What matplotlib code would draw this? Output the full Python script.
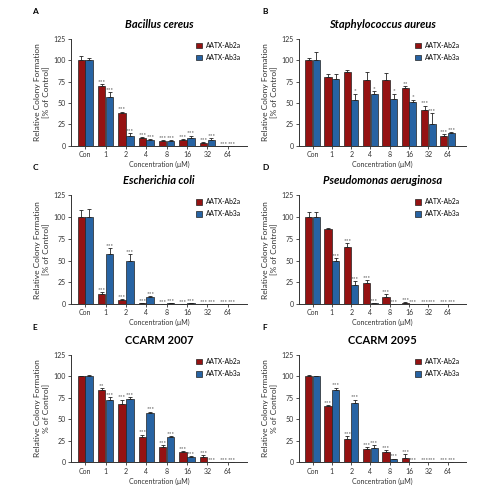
import numpy as np
import matplotlib
matplotlib.use('Agg')
import matplotlib.pyplot as plt

plt.rcParams['font.family'] = ['Lato', 'DejaVu Sans']

conc = ['Con', '1', '2', '4', '8', '16', '32', '64']
series_names = ['AATX-Ab2a', 'AATX-Ab3a']

# values (% of control) and upper error bars
bc_ab2a = [100, 70, 38, 9, 6, 7, 3, 0]
bc_ab2a_err = [5, 2, 2, 1, 1, 1, 1, 0]
bc_ab3a = [100, 57, 12, 7, 6, 9, 7, 0]
bc_ab3a_err = [3, 6, 3, 1, 1, 3, 2, 0]
bc_sig2 = ['', '***', '***', '***', '***', '***', '***', '***']
bc_sig3 = ['', '***', '***', '***', '***', '***', '***', '***']

sa_ab2a = [100, 80, 86, 77, 77, 67, 42, 12]
sa_ab2a_err = [3, 4, 2, 9, 8, 3, 5, 2]
sa_ab3a = [100, 78, 53, 60, 55, 51, 25, 15]
sa_ab3a_err = [10, 6, 8, 4, 6, 3, 13, 1]
sa_sig2 = ['', '', '', '', '', '**', '***', '***']
sa_sig3 = ['', '', '*', '*', '*', '*', '***', '***']

ec_ab2a = [100, 12, 4, 0.5, 0, 0, 0, 0]
ec_ab2a_err = [8, 2, 2, 0, 0, 0, 0, 0]
ec_ab3a = [100, 58, 50, 8, 1, 0.5, 0, 0]
ec_ab3a_err = [9, 6, 7, 1, 0, 0, 0, 0]
ec_sig2 = ['', '***', '***', '***', '***', '***', '***', '***']
ec_sig3 = ['', '***', '***', '***', '***', '***', '***', '***']

pa_ab2a = [100, 86, 66, 24, 8, 1, 0, 0]
pa_ab2a_err = [6, 2, 4, 3, 3, 1, 0, 0]
pa_ab3a = [100, 49, 22, 1, 0, 0, 0, 0]
pa_ab3a_err = [6, 4, 4, 0, 0, 0, 0, 0]
pa_sig2 = ['', '', '***', '***', '***', '***', '***', '***']
pa_sig3 = ['', '***', '***', '***', '***', '***', '***', '***']

c7_ab2a = [100, 84, 68, 29, 18, 12, 6, 0]
c7_ab2a_err = [1, 2, 5, 3, 2, 1, 2, 0]
c7_ab3a = [100, 72, 74, 57, 29, 6, 0, 0]
c7_ab3a_err = [2, 4, 2, 2, 1, 1, 0, 0]
c7_sig2 = ['', '**', '***', '***', '***', '***', '***', '***']
c7_sig3 = ['', '***', '***', '***', '***', '***', '***', '***']

c9_ab2a = [100, 65, 27, 15, 12, 5, 0, 0]
c9_ab2a_err = [2, 2, 3, 2, 2, 4, 0, 0]
c9_ab3a = [100, 84, 69, 16, 3, 0, 0, 0]
c9_ab3a_err = [1, 3, 4, 4, 1, 0, 0, 0]
c9_sig2 = ['', '***', '***', '***', '***', '***', '***', '***']
c9_sig3 = ['', '***', '***', '***', '***', '***', '***', '***']

panels = [
    ('A', 'Bacillus cereus', True, '[% of Control]', bc_ab2a, bc_ab2a_err, bc_ab3a, bc_ab3a_err, bc_sig2, bc_sig3),
    ('B', 'Staphylococcus aureus', True, '[% of Control]', sa_ab2a, sa_ab2a_err, sa_ab3a, sa_ab3a_err, sa_sig2, sa_sig3),
    ('C', 'Escherichia coli', True, '[% of Control]', ec_ab2a, ec_ab2a_err, ec_ab3a, ec_ab3a_err, ec_sig2, ec_sig3),
    ('D', 'Pseudomonas aeruginosa', True, '[% of Control]', pa_ab2a, pa_ab2a_err, pa_ab3a, pa_ab3a_err, pa_sig2, pa_sig3),
    ('E', 'CCARM 2007', False, '% of Control]', c7_ab2a, c7_ab2a_err, c7_ab3a, c7_ab3a_err, c7_sig2, c7_sig3),
    ('F', 'CCARM 2095', False, '% of Control]', c9_ab2a, c9_ab2a_err, c9_ab3a, c9_ab3a_err, c9_sig2, c9_sig3),
]

red = '#951212'
blue = '#2763a3'

fig = plt.figure(figsize=(5, 4.91), dpi=100)

lefts = [0.142, 0.598]
widths = [0.352, 0.334]
bottoms = [0.703, 0.381, 0.059]
heights = [0.218, 0.221, 0.218]

x = np.arange(len(conc))
w = 0.37

for i, (letter, title, italic, ylab2, v2, e2, v3, e3, s2, s3) in enumerate(panels):
    row, col = divmod(i, 2)
    ax = fig.add_axes([lefts[col], bottoms[row], widths[col], heights[row]])
    for vals, errs, sig, off, color, name in [(v2, e2, s2, -w / 2 - 0.01, red, series_names[0]),
                                              (v3, e3, s3, w / 2 + 0.01, blue, series_names[1])]:
        vals = np.array(vals, dtype=float)
        errs = np.array(errs, dtype=float)
        ax.bar(x + off, vals, w, color=color, edgecolor='#222222', linewidth=0.5, label=name,
               yerr=[np.zeros_like(errs), errs], capsize=1.3,
               error_kw=dict(elinewidth=0.6, capthick=0.6, ecolor='#222222'))
        for xi, v, e, s in zip(x + off, vals, errs, sig):
            if s:
                ax.text(xi, v + e, s, ha='center', va='bottom', fontsize=4.6, color='#444444')
    ax.set_xlim(-0.7, 7.95)
    ax.set_ylim(0, 125)
    ax.set_yticks([0, 25, 50, 75, 100, 125])
    ax.set_xticks(x)
    ax.set_xticklabels(conc)
    ax.tick_params(labelsize=5, length=2, width=0.6, pad=2, colors='#333333')
    for sp in ['top', 'right']:
        ax.spines[sp].set_visible(False)
    for sp in ['left', 'bottom']:
        ax.spines[sp].set_linewidth(0.7)
        ax.spines[sp].set_color('#333333')
    ax.set_xlabel('Concentration (\u03bcM)', fontsize=5, labelpad=2, color='#333333')
    ax.set_ylabel('Relative Colony Formation\n' + ylab2, fontsize=6, labelpad=2, color='#333333',
                  linespacing=1.3)
    ax.set_title(title, fontsize=8, fontweight='bold', style='italic' if italic else 'normal', pad=8)
    ax.legend(loc='upper right', fontsize=4.8, frameon=False, handlelength=0.9, handleheight=0.9,
              bbox_to_anchor=(1.0, 1.03), labelspacing=0.8, handletextpad=0.6)
    ax.text(-0.22, 1.23, letter, transform=ax.transAxes, fontsize=6, fontweight='bold')

fig.savefig('out.png', dpi=100)
